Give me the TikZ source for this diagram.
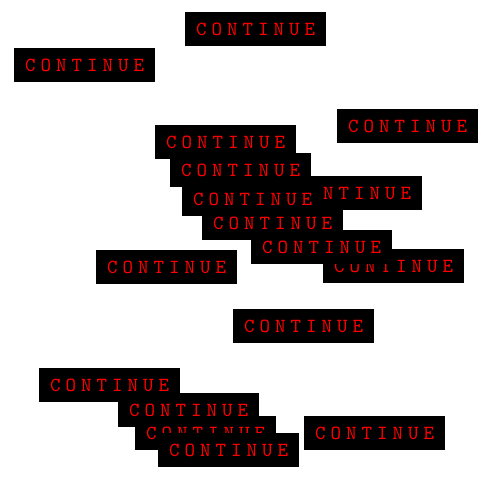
\documentclass[tikz,border=0pt]{standalone}
\usepackage{fontspec}
\newfontfamily\btnfont{lmmono10-regular.otf}[LetterSpace=25]
\tikzset{
  btn/.style={fill=black, text=red, inner sep=0pt,
    minimum width=141pt, minimum height=34pt,
    font=\btnfont\fontsize{20pt}{20pt}\selectfont}
}
\begin{document}
\begin{tikzpicture}[x=1pt, y=-1pt]
  \useasboundingbox (0, 0) rectangle (500, 500);

  \node[btn] (top) at (255.5, 29) {CONTINUE};
  \node[btn] (left) at (84.5, 65) {CONTINUE};
  \node[btn] (right) at (407.5, 126) {CONTINUE};
  \node[btn] (stackA) at (225.5, 142) {CONTINUE};
  \node[btn] (stackB) at (240.5, 170) {CONTINUE};
  \node[btn] (behind) at (351.5, 193) {CONTINUE};
  \node[btn] (stackC) at (252.5, 199) {CONTINUE};
  \node[btn] (stackD) at (272.5, 223) {CONTINUE};
  % lowright first, stackE covers its text
  \node[btn] (lowright) at (393.5, 266) {CONTINUE};
  \node[btn] (stackE) at (321.5, 247) {CONTINUE};
  \node[btn] (midleft) at (166.5, 267) {CONTINUE};
  \node[btn] (middle) at (303.5, 326) {CONTINUE};

  \node[btn] (botA) at (109.5, 385) {CONTINUE};
  \node[btn] (botB) at (188.5, 410) {CONTINUE};
  \node[btn] (botC) at (205.5, 433) {CONTINUE};
  \node[btn] (botD) at (228.5, 450) {CONTINUE};
  \node[btn] (botright) at (374.5, 433) {CONTINUE};
\end{tikzpicture}
\end{document}
